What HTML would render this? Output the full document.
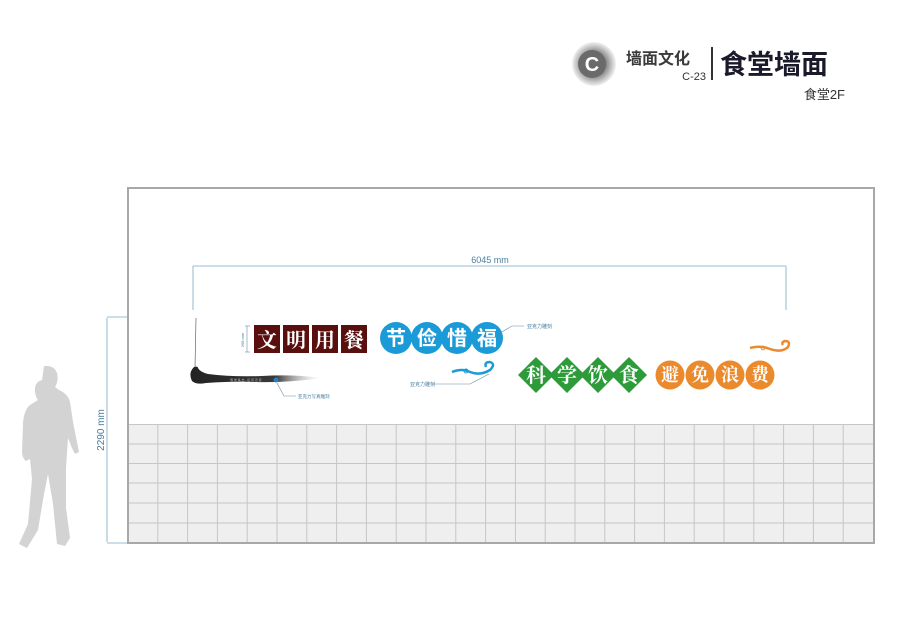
<!DOCTYPE html>
<html><head><meta charset="utf-8"><style>
body{margin:0;width:900px;height:636px;background:#fff;overflow:hidden;font-family:"Liberation Sans","Noto Sans CJK SC",sans-serif}
</style></head><body>
<svg width="900" height="636" viewBox="0 0 900 636" xmlns="http://www.w3.org/2000/svg" font-family="Liberation Sans, Noto Sans CJK SC, sans-serif">
<defs>
<radialGradient id="lg" cx="0.5" cy="0.5" r="0.5"><stop offset="0.55" stop-color="#888"/><stop offset="0.8" stop-color="#c4c4c4"/><stop offset="1" stop-color="#f2f2f2"/></radialGradient>
<linearGradient id="ink" x1="0" x2="1"><stop offset="0" stop-color="#222"/><stop offset="0.65" stop-color="#3a3a3a"/><stop offset="1" stop-color="#ccc" stop-opacity="0"/></linearGradient>
</defs>
<!-- header -->
<circle cx="594" cy="64" r="22" fill="url(#lg)"/>
<circle cx="592" cy="64" r="14" fill="#6a6a6a"/>
<text x="592" y="71" font-size="20" font-weight="bold" fill="#fff" text-anchor="middle">C</text>
<text x="626" y="64" font-size="16" font-weight="bold" fill="#3a3a3a">墙面文化</text>
<text x="706" y="80" font-size="11" fill="#333" text-anchor="end">C-23</text>
<rect x="711" y="47" width="2" height="33" fill="#333"/>
<text x="720" y="74" font-size="27" font-weight="bold" fill="#1a1a2a">食堂墙面</text>
<text x="845" y="99" font-size="13" fill="#333" text-anchor="end">食堂2F</text>
<!-- wall -->
<rect x="128" y="188" width="746" height="355" fill="#fff"/>
<rect x="129" y="424" width="744" height="118" fill="#efefef"/>
<g stroke="#c6c6c6" stroke-width="1">
<line x1="128" y1="424.5" x2="874" y2="424.5"/><line x1="128" y1="444" x2="874" y2="444"/><line x1="128" y1="463.5" x2="874" y2="463.5"/><line x1="128" y1="483" x2="874" y2="483"/><line x1="128" y1="503" x2="874" y2="503"/><line x1="128" y1="523" x2="874" y2="523"/>
<line x1="157.8" y1="424" x2="157.8" y2="543"/><line x1="187.6" y1="424" x2="187.6" y2="543"/><line x1="217.4" y1="424" x2="217.4" y2="543"/><line x1="247.2" y1="424" x2="247.2" y2="543"/><line x1="277" y1="424" x2="277" y2="543"/><line x1="306.8" y1="424" x2="306.8" y2="543"/><line x1="336.6" y1="424" x2="336.6" y2="543"/><line x1="366.4" y1="424" x2="366.4" y2="543"/><line x1="396.2" y1="424" x2="396.2" y2="543"/><line x1="426" y1="424" x2="426" y2="543"/><line x1="455.8" y1="424" x2="455.8" y2="543"/><line x1="485.6" y1="424" x2="485.6" y2="543"/><line x1="515.4" y1="424" x2="515.4" y2="543"/><line x1="545.2" y1="424" x2="545.2" y2="543"/><line x1="575" y1="424" x2="575" y2="543"/><line x1="604.8" y1="424" x2="604.8" y2="543"/><line x1="634.6" y1="424" x2="634.6" y2="543"/><line x1="664.4" y1="424" x2="664.4" y2="543"/><line x1="694.2" y1="424" x2="694.2" y2="543"/><line x1="724" y1="424" x2="724" y2="543"/><line x1="753.8" y1="424" x2="753.8" y2="543"/><line x1="783.6" y1="424" x2="783.6" y2="543"/><line x1="813.4" y1="424" x2="813.4" y2="543"/><line x1="843.2" y1="424" x2="843.2" y2="543"/>
</g>
<rect x="128" y="188" width="746" height="355" fill="none" stroke="#a8a8a8" stroke-width="2"/>
<!-- dims -->
<g stroke="#7aa6c0" stroke-width="0.8" fill="none">
<line x1="107" y1="317" x2="127" y2="317"/><line x1="107" y1="543" x2="127" y2="543"/>
<line x1="107" y1="318" x2="107" y2="542"/>
<line x1="193" y1="266" x2="786" y2="266"/>
<line x1="193" y1="266" x2="193" y2="310"/><line x1="786" y1="266" x2="786" y2="310"/>
</g>
<text x="104" y="430" font-size="10" fill="#4a7d9e" transform="rotate(-90 104 430)" text-anchor="middle">2290 mm</text>
<text x="490" y="263" font-size="9" fill="#4a7d9e" text-anchor="middle">6045 mm</text>
<!-- person -->
<path d="M42 380 q-8 2 -7 12 q1 6 3 8 l-8 5 q-6 5 -7 18 l-1 30 q1 6 4 8 l4 -2 l2 20 l-4 45 l-9 20 l8 4 l11 -18 l6 -36 l4 -20 l5 30 l4 40 l8 2 l5 -8 l-4 -30 l0 -40 l2 -30 l4 10 l3 6 l4 -2 l-6 -30 l-3 -20 q-2 -8 -11 -12 l-4 -3 q4 -6 2 -14 q-3 -8 -13 -7z" fill="#d3d3d3"/>
<!-- ink brush -->
<line x1="196" y1="318" x2="195" y2="368" stroke="#666" stroke-width="0.7"/>
<path d="M194 367 q-6 6 -2 14 q4 4 14 2 q30 -2 50 -1 q30 1 66 -4 q-30 -4 -60 -2 q-30 1 -54 -2 q-8 -2 -10 -6 q0 -2 -4 -1z" fill="url(#ink)"/>
<g fill="#bbb" font-size="3"><text x="230" y="381">博 学 笃 志 · 切 问 近 思</text></g>
<circle cx="276" cy="380" r="2.5" fill="#2b7fc0"/>
<polyline points="277,383 284,396 296,396" stroke="#6a8ea8" stroke-width="0.6" fill="none"/>
<text x="298" y="398" font-size="4.5" fill="#4a7d9e">亚克力写真雕刻</text>
<g stroke="#6a8ea8" stroke-width="0.6" fill="none"><line x1="245" y1="326" x2="250" y2="326"/><line x1="245" y1="352" x2="250" y2="352"/><line x1="247" y1="326" x2="247" y2="352"/></g>
<text x="244" y="340" font-size="4" fill="#4a7d9e" transform="rotate(-90 244 340)" text-anchor="middle">268 mm</text>
<!-- 文明用餐 -->
<g fill="#5a0f0f"><rect x="254" y="325" width="26" height="28"/><rect x="283" y="325" width="26" height="28"/><rect x="312" y="325" width="26" height="28"/><rect x="341" y="325" width="26" height="28"/></g>
<g fill="#fff" font-size="20" font-weight="bold" text-anchor="middle" font-family="Noto Serif CJK SC, serif"><text x="267" y="347">文</text><text x="296" y="347">明</text><text x="325" y="347">用</text><text x="354" y="347">餐</text></g>
<!-- 节俭惜福 -->
<g fill="#1b9ad8"><circle cx="396" cy="338" r="16"/><circle cx="427" cy="338" r="16"/><circle cx="457" cy="338" r="16"/><circle cx="487" cy="338" r="16"/></g>
<g fill="#fff" font-size="20" font-weight="bold" text-anchor="middle"><text x="396" y="345">节</text><text x="427" y="345">俭</text><text x="457" y="345">惜</text><text x="487" y="345">福</text></g>
<polyline points="500,333 512,326 524,326" stroke="#6a8ea8" stroke-width="0.6" fill="none"/>
<text x="527" y="328" font-size="5" fill="#4a7d9e">亚克力雕刻</text>
<path d="M452 372 q10 -4 18 0 q10 4 20 -2 q6 -6 0 -8 q-6 0 -4 5" stroke="#1b9ad8" stroke-width="2.5" fill="none"/>
<circle cx="466" cy="371" r="2" fill="none" stroke="#1b9ad8"/>
<polyline points="489,374 470,384 432,384" stroke="#6a8ea8" stroke-width="0.6" fill="none"/>
<text x="410" y="386" font-size="5" fill="#4a7d9e">亚克力雕刻</text>
<!-- 科学饮食 -->
<g fill="#2e9b3b"><path d="M536 357 l18 18 l-18 18 l-18 -18z"/><path d="M567 357 l18 18 l-18 18 l-18 -18z"/><path d="M598 357 l18 18 l-18 18 l-18 -18z"/><path d="M629 357 l18 18 l-18 18 l-18 -18z"/></g>
<g fill="#fff" font-size="20" font-weight="bold" text-anchor="middle" font-family="Noto Serif CJK SC, serif"><text x="536" y="382">科</text><text x="567" y="382">学</text><text x="598" y="382">饮</text><text x="629" y="382">食</text></g>
<!-- 避免浪费 -->
<g fill="#ea8a2c"><circle cx="670" cy="375" r="14.5"/><circle cx="700" cy="375" r="14.5"/><circle cx="730" cy="375" r="14.5"/><circle cx="760" cy="375" r="14.5"/></g>
<g fill="#fff" font-size="18" font-weight="bold" text-anchor="middle" font-family="Noto Serif CJK SC, serif"><text x="670" y="381">避</text><text x="700" y="381">免</text><text x="730" y="381">浪</text><text x="760" y="381">费</text></g>
<path d="M750 348 q10 -3 20 1 q12 4 18 -2 q3 -6 -3 -6 q-4 1 -2 4" stroke="#ea8a2c" stroke-width="2.5" fill="none"/>
<circle cx="763" cy="348" r="1.8" fill="none" stroke="#ea8a2c"/>
</svg>
</body></html>
